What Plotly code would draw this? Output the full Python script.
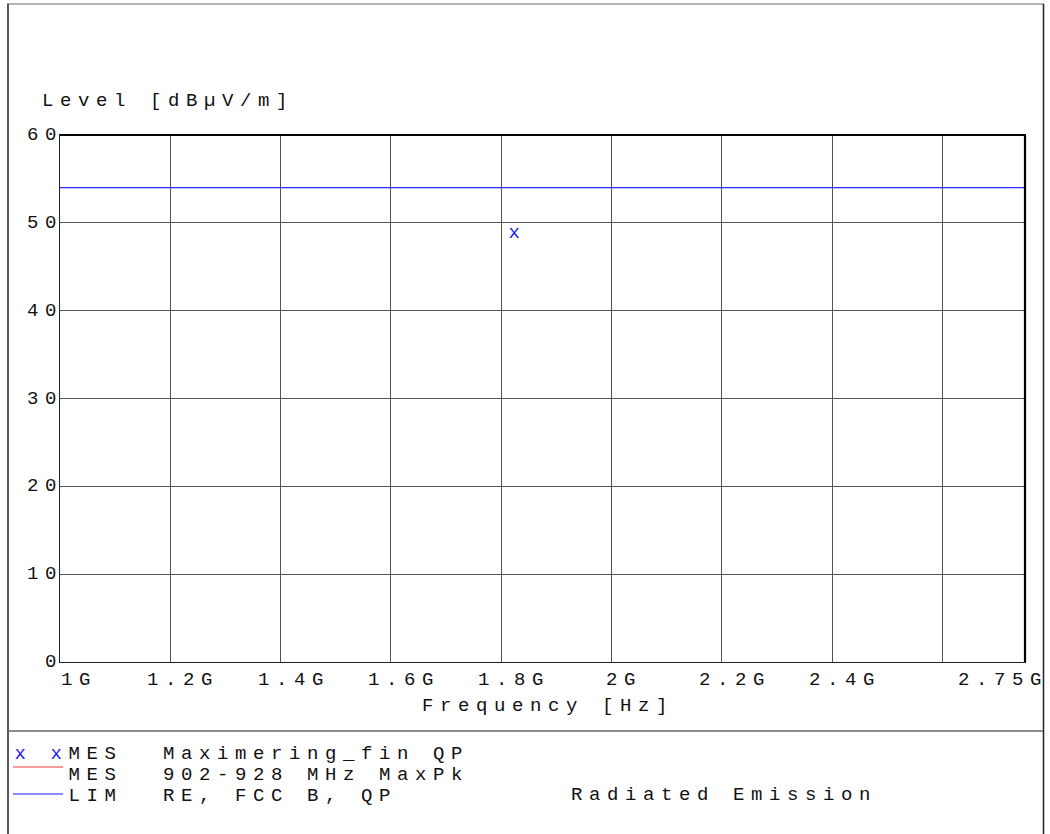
import plotly.graph_objects as go

# ---------------- data ----------------
freq_tick_hz = [1.0e9, 1.2e9, 1.4e9, 1.6e9, 1.8e9, 2.0e9, 2.2e9, 2.4e9, 2.75e9]
freq_tick_labels = ["1G", "1.2G", "1.4G", "1.6G", "1.8G", "2G", "2.2G", "2.4G", "2.75G"]
grid_freq_hz = [1.2e9, 1.4e9, 1.6e9, 1.8e9, 2.0e9, 2.2e9, 2.4e9, 2.6e9]
level_ticks = [0, 10, 20, 30, 40, 50, 60]
level_tick_labels = ["0", "10", "20", "30", "40", "50", "60"]

qp_freq_hz = [1.8236e9]
qp_level = [48.8]

limit_freq_hz = [1.0e9, 2.75e9]
limit_level = [54.0, 54.0]

legend_keys = ["x xMES", "MES", "LIM"]
legend_names = ["Maximering_fin QP", "902-928 MHz MaxPk", "RE, FCC B, QP"]
y_title = "Level [dBµV/m]"
x_title = "Frequency [Hz]"
footer_note = "Radiated Emission"

# ---------------- style ----------------
FONT = "Liberation Mono"
FS = 19
CHAR_W = 18.0                       # target advance per character (px)
SPACING = CHAR_W - 0.6 * FS         # extra letter spacing applied in page
ROW_H = 21                          # legend row pitch (px)
L, R, T, B = 60, 1025, 135, 662     # plot area in pixels
W, H = 1050, 834
BLUE = "#1a1aff"

def px(xp):
    return (xp - L) / (R - L)

def py(yp):
    return (B - yp) / (B - T)

fig = go.Figure()

fig.add_trace(go.Scatter(
    x=limit_freq_hz, y=limit_level, mode="lines",
    line=dict(color="#2b2bff", width=1.2), showlegend=False, hoverinfo="skip"))

fig.add_trace(go.Scatter(
    x=qp_freq_hz, y=qp_level, mode="text", text=["x"] * len(qp_freq_hz),
    textposition="middle center",
    textfont=dict(family=FONT, size=FS, color=BLUE),
    showlegend=False, hoverinfo="skip"))

fig.update_xaxes(range=[freq_tick_hz[0], freq_tick_hz[-1]], tickvals=grid_freq_hz,
                 showticklabels=False, ticks="", showgrid=True, gridcolor="#555555",
                 gridwidth=1, zeroline=False, showline=True, linecolor="#222222",
                 linewidth=1, mirror=True)
fig.update_yaxes(range=[level_ticks[0], level_ticks[-1]], tickvals=level_ticks[1:-1],
                 showticklabels=False, ticks="", showgrid=True, gridcolor="#555555",
                 gridwidth=1, zeroline=False, showline=True, linecolor="#222222",
                 linewidth=1, mirror=True)

ann = []
def text_at(x, y, s, color="#111111", xref="paper", yref="paper", xshift=0,
            xanchor="left", yanchor="middle", align="left"):
    ann.append(dict(x=x, y=y, xref=xref, yref=yref, text=s, showarrow=False,
                    xanchor=xanchor, yanchor=yanchor, align=align, xshift=xshift,
                    borderpad=0,
                    font=dict(family=FONT, size=FS, color=color)))

# x tick labels
n_last = len(freq_tick_labels) - 1
for i, (v, lab) in enumerate(zip(freq_tick_hz, freq_tick_labels)):
    n = len(lab)
    if i == 0:
        sh = 0
    elif i == n_last:
        sh = 15 + SPACING - n * CHAR_W
    else:
        sh = 12 - n * CHAR_W / 2
    text_at(v, py(680), lab, xref="x", xshift=sh)

# y tick labels (right edge of ink near x=57)
for v, lab in zip(level_ticks, level_tick_labels):
    text_at(px(55 + SPACING - len(lab) * CHAR_W), v, lab, yref="y")

text_at(px(41), py(101), y_title)
text_at(px(421), py(706), x_title)

# legend block (three rows)
row1_y = 751
top_y = row1_y - 0.5 * FS
keys_txt = "<br>".join(["<span style='color:%s'>x x</span>%s" % (BLUE, legend_keys[0][3:])]
                       + legend_keys[1:])
text_at(px(69 + 3 * CHAR_W), py(top_y), keys_txt, xanchor="right", yanchor="top",
        align="right")
text_at(px(162), py(top_y), "<br>".join(legend_names), yanchor="top")
text_at(px(570), py(795), footer_note)

shapes = []
def seg(x0, y0, x1, y1, color, width):
    shapes.append(dict(type="line", xref="paper", yref="paper",
                       x0=px(x0), y0=py(y0), x1=px(x1), y1=py(y1),
                       line=dict(color=color, width=width)))

# outer frame
seg(7, 4, 1044, 4, "#999999", 1.5)
seg(8, 4, 8, 834, "#222222", 1.5)
seg(1043.5, 4, 1043.5, 834, "#222222", 1.5)
seg(8, 731, 1043, 731, "#666666", 1.5)
# thick top/right of plot frame
seg(L, T, R + 1, T, "#000000", 2.2)
seg(R, T, R, B, "#000000", 2.2)
# legend samples
seg(13, 767, 63, 767, "#e83a3a", 1)
seg(13, 794, 63, 794, BLUE, 1.2)

fig.update_layout(
    width=W, height=H, margin=dict(l=L, r=W - R, t=T, b=H - B, pad=0),
    paper_bgcolor="white", plot_bgcolor="white", showlegend=False,
    annotations=ann, shapes=shapes,
    font=dict(family=FONT, size=FS, color="#111111"),
)

post = (
    "document.body.style.margin='0';document.body.style.overflow='hidden';"
    "var f=function(){document.querySelectorAll('.annotation-text').forEach("
    "function(t){t.style.letterSpacing='%.2fpx';"
    "t.querySelectorAll('tspan.line').forEach(function(s,i){s.setAttribute('dy',(i*%d)+'px');});"
    "});};f();"
    "var gd=document.getElementById('{plot_id}');if(gd&&gd.on){gd.on('plotly_afterplot',f);}"
) % (SPACING, ROW_H)

fig.write_html("out.html", post_script=post, config={"displayModeBar": False})
